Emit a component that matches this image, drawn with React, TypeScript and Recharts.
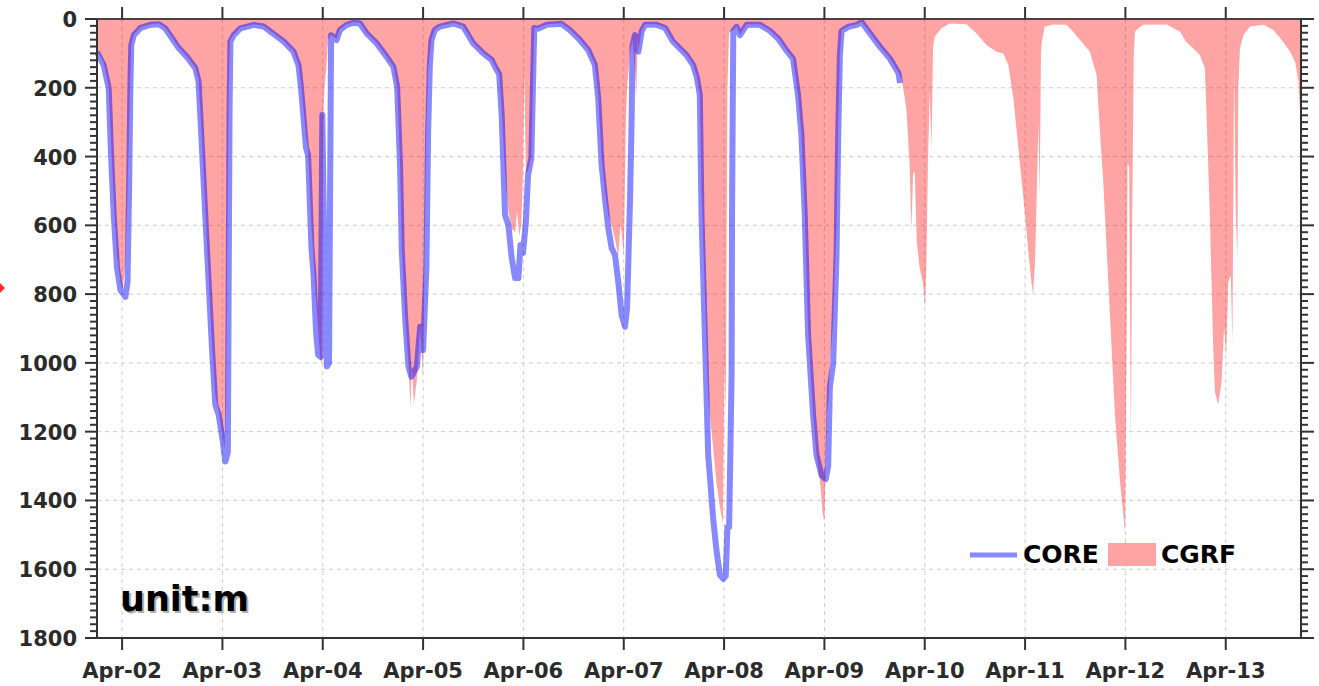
import { Area, CartesianGrid, ComposedChart, Line, XAxis, YAxis } from 'recharts';

// hours since Apr-01 18:00, depth in m
const coreHours = [
  0, 1.6, 2.8, 3.3, 4.0, 4.8, 5.6, 6.8, 7.3, 7.7, 8.0, 8.2, 8.8, 10.4, 12.7, 14.8, 16.3, 17.9, 19.5, 21.5, 23.5,
  24.3, 25.1, 25.9, 26.7, 27.5, 28.3, 29.1, 30.1, 30.7, 31.3, 31.5, 31.7, 31.9, 32.7, 34.3, 37.5, 39.9, 41.5, 44.7, 47.0,
  48.2, 48.8, 50.0, 50.5, 51.3, 51.8, 52.4, 52.9, 53.5, 53.9, 54.4, 55.0, 55.5, 56.0, 57.3, 58.1, 59.7, 61.3, 62.9, 64.5, 66.9, 69.3, 70.9,
  71.8, 72.5, 72.9, 73.7, 74.5, 75.2, 76.5, 77.3, 78.0, 78.8, 79.2, 79.6, 80.0, 80.8, 82.0, 85.2, 87.6, 90.0, 92.4, 94.4,
  95.2, 96.2, 96.8, 97.6, 98.4, 99.2, 100.0, 100.8, 101.3, 101.9, 102.6, 103.1, 103.9, 104.3, 104.6, 105.5, 107.6, 111.1, 113.1, 115.5, 117.5,
  119.1, 119.9, 120.7, 121.5, 122.3, 123.1, 123.9, 124.7, 125.5, 126.3, 126.8, 127.5, 127.9, 128.1, 128.7, 129.5, 130.3, 131.1, 133.9, 135.9, 137.8, 141.0,
  142.6, 143.5, 144.2, 144.6, 145.4, 146.2, 147.4, 148.2, 149.0, 149.8, 150.4, 150.8, 151.2, 151.4, 151.8, 151.9, 152.2, 153.0, 153.8, 155.4, 158.6, 161.0, 163.0, 165.0, 166.5,
  167.7, 168.5, 169.3, 170.1, 171.3, 172.1, 173.3, 174.3, 174.9, 175.3, 176.1, 176.9, 177.3, 177.7, 178.1, 179.7, 181.7, 182.9, 184.1, 187.3, 189.7, 191.7, 192.1,
];
const coreDepth = [
  96, 134, 200, 375, 570, 724, 788, 808, 765, 474, 183, 76, 47, 26, 17, 15, 27, 55, 84, 110, 142,
  182, 375, 570, 764, 957, 1122, 1151, 1229, 1287, 1260, 764, 279, 66, 47, 27, 17, 22, 37, 66, 95,
  134, 200, 375, 395, 666, 744, 910, 977, 983, 279, 700, 1010, 1000, 47, 61, 32, 17, 11, 13, 42, 71, 110, 139,
  197, 430, 672, 866, 1011, 1040, 1011, 895, 963, 720, 332, 139, 61, 32, 22, 13, 22, 71, 100, 119,
  139, 160, 279, 570, 599, 695, 753, 753, 657, 680, 590, 454, 404, 183, 26, 28, 17, 14, 32, 61, 90,
  134, 230, 424, 521, 608, 666, 686, 765, 861, 895, 840, 526, 284, 76, 47, 95, 35, 17, 17, 26, 66, 105,
  134, 170, 221, 570, 919, 1268, 1454, 1547, 1617, 1628, 1620, 1477, 1477, 1338, 1035, 570, 35, 23, 47, 17, 17, 35, 58, 93, 116,
  221, 337, 570, 919, 1152, 1268, 1326, 1338, 1300, 1070, 1000, 686, 337, 105, 35, 23, 17, 9, 29, 81, 116, 157, 186,
];

const cgrfHours = [
  0, 1.6, 2.8, 3.3, 4.0, 4.8, 5.6, 6.2, 6.7, 7.2, 7.6, 8.0, 8.2, 8.8, 10.4, 12.7, 14.8, 16.3, 17.9, 19.5, 21.5, 23.5,
  24.3, 25.1, 25.9, 26.7, 27.5, 28.3, 29.1, 30.0, 30.5, 30.9, 31.2, 31.5, 31.8, 32.7, 34.3, 37.5, 39.9, 41.5, 44.7, 47.0,
  48.2, 48.8, 50.0, 50.5, 51.3, 51.8, 52.4, 52.9, 53.4, 53.8, 54.1, 54.4, 54.8, 55.3, 56.0, 57.3, 58.1, 59.7, 61.3, 62.9, 64.5, 66.9, 69.3, 70.9,
  71.8, 72.5, 72.9, 73.7, 74.5, 75.0, 75.3, 75.8, 76.5, 77.3, 78.0, 78.4, 78.8, 79.2, 79.6, 80.0, 80.8, 82.0, 85.2, 87.6, 90.0, 92.4, 94.4,
  95.2, 96.2, 96.8, 97.6, 98.4, 99.2, 100.0, 100.5, 101.0, 101.5, 101.9, 102.2, 102.6, 103.1, 103.9, 104.3, 104.6, 105.5, 107.6, 111.1, 113.1, 115.5, 117.5,
  119.1, 119.9, 120.7, 121.5, 122.3, 123.1, 123.9, 124.7, 125.2, 125.5, 126.0, 126.5, 126.8, 127.5, 127.9, 128.1, 128.7, 129.0, 129.3, 129.5, 130.3, 131.1, 133.9, 135.9, 137.8, 141.0,
  142.6, 143.5, 144.2, 144.6, 145.4, 146.2, 147.4, 148.2, 149.0, 149.7, 150.1, 150.4, 150.8, 151.2, 152.2, 153.0, 153.8, 155.4, 158.6, 161.0, 163.0, 165.0, 166.5,
  167.7, 168.5, 169.3, 170.1, 171.3, 172.1, 173.0, 173.6, 174.0, 174.3, 174.6, 175.0, 175.3, 176.1, 176.9, 177.3, 177.7, 178.1, 179.7, 181.7, 182.9, 184.1, 187.3, 189.7,
  191.7, 192.5, 193.6, 194.4, 194.8, 195.2, 195.6, 196.1, 196.8, 197.6, 198.1, 198.4, 198.8, 199.2, 199.6, 200.0, 200.4, 202.0, 204.0, 208.0, 210.4, 212.8,
  215.2, 216.8, 218.0, 219.2, 220.0, 221.2, 222.0, 222.7, 223.5, 223.9, 224.4, 224.8, 225.2, 225.5, 225.8, 226.0, 226.7, 228.7, 231.9, 233.5, 235.5, 237.5,
  239.1, 239.9, 240.7, 241.5, 242.3, 243.5, 244.7, 245.9, 246.3, 246.5, 246.9, 247.3, 247.6, 248.0, 248.3, 249.1, 250.3, 255.9, 259.1, 260.5, 262.2,
  263.8, 265.0, 265.4, 266.2, 266.6, 267.0, 267.4, 268.2, 269.0, 269.6, 270.1, 270.6, 271.2, 271.6, 272.0, 272.4, 272.8, 273.0, 273.4, 274.2, 275.8,
  279.0, 281.4, 283.4, 285.4, 286.6, 287.4, 288,
];
const cgrfDepth = [
  90, 128, 195, 340, 530, 690, 765, 785, 720, 560, 350, 140, 72, 45, 24, 15, 13, 25, 52, 82, 108, 140,
  175, 350, 550, 745, 940, 1095, 1140, 1210, 1250, 1120, 620, 200, 62, 45, 25, 15, 20, 35, 64, 93,
  130, 190, 340, 380, 600, 700, 820, 900, 990, 1000, 300, 200, 150, 60, 45, 58, 30, 15, 9, 11, 40, 69, 108, 137,
  195, 420, 660, 860, 1000, 1131, 1000, 1120, 1050, 900, 1044, 650, 320, 150, 100, 58, 30, 20, 11, 20, 69, 98, 117,
  137, 160, 260, 450, 560, 610, 620, 560, 630, 600, 450, 160, 450, 440, 400, 180, 25, 26, 15, 12, 30, 59, 88,
  132, 220, 400, 500, 570, 600, 640, 690, 600, 620, 690, 300, 200, 100, 70, 60, 150, 230, 60, 93, 33, 15, 15, 24, 64, 103,
  132, 168, 219, 500, 800, 1100, 1250, 1350, 1420, 1466, 1000, 1150, 200, 40, 33, 21, 45, 15, 15, 33, 56, 91, 114,
  219, 335, 560, 900, 1150, 1268, 1350, 1440, 1460, 1300, 1150, 1100, 1000, 880, 600, 300, 100, 33, 21, 15, 7, 27, 79, 114,
  155, 175, 260, 430, 618, 450, 444, 650, 724, 769, 840, 700, 400, 211, 380, 80, 51, 27, 13, 15, 42, 76,
  95, 100, 134, 231, 328, 473, 570, 666, 764, 803, 700, 500, 300, 520, 100, 66, 22, 16, 17, 37, 66, 95,
  163, 328, 473, 666, 861, 1152, 1345, 1491, 900, 420, 430, 1250, 600, 100, 37, 27, 17, 16, 37, 66, 85,
  105, 143, 279, 570, 764, 957, 1084, 1122, 1055, 898, 977, 764, 745, 938, 134, 570, 700, 200, 85, 47, 22,
  17, 32, 61, 95, 124, 182, 330,
];

const dateTicks = [6, 30, 54, 78, 102, 126, 150, 174, 198, 222, 246, 270];
const depthTicks = Array.from({ length: 91 }, (_, i) => i * 20);
const gridDepths = [200, 400, 600, 800, 1000, 1200, 1400, 1600];

const coreData = coreHours.map((h, i) => ({ h, v: coreDepth[i] }));
const cgrfData = cgrfHours.map((h, i) => ({ h, v: cgrfDepth[i] }));

const FONT = '"DejaVu Sans", sans-serif';
// plot frame (chart margins/axis sizes below put it here)
const PLOT_LEFT = 97;
const PLOT_RIGHT = 1301;
const PLOT_TOP = 19;
const HOURS = 288;

const fmtDate = (h: number) => {
  const day = 1 + Math.round((h + 18) / 24);
  return `Apr-${String(day).padStart(2, '0')}`;
};

const LeftTick = (props: any) => {
  const { x, y, payload } = props;
  const major = payload.value % 200 === 0;
  return (
    <g>
      <line x1={x} x2={x - (major ? 12 : 7)} y1={y} y2={y} stroke="#333" strokeWidth={2} />
      {major && (
        <text x={x - 20} y={y} dy={8} textAnchor="end" fill="#2b2b2b" fontFamily={FONT} fontWeight="bold" fontSize={21}>
          {payload.value}
        </text>
      )}
    </g>
  );
};

const RightTick = (props: any) => {
  const { x, y, payload } = props;
  const major = payload.value % 200 === 0;
  return <line x1={x} x2={x + (major ? 13 : 7)} y1={y} y2={y} stroke="#333" strokeWidth={2} />;
};

const DateTick = (props: any) => {
  const { x, y, payload } = props;
  return (
    <text x={x} y={y} dy={20} textAnchor="middle" fill="#2b2b2b" fontFamily={FONT} fontWeight="bold" fontSize={21}>
      {fmtDate(payload.value)}
    </text>
  );
};

export default function App() {
  return (
    <div style={{ position: 'relative', width: 1319, height: 686, background: '#fff' }}>
      <style>{'body{margin:0}'}</style>
      <ComposedChart width={1319} height={686} margin={{ top: 0, right: 0, bottom: 0, left: 0 }}>
        <CartesianGrid
          stroke="#cccccc"
          strokeDasharray="4 4"
          horizontalValues={gridDepths}
          verticalValues={dateTicks}
        />
        <XAxis
          dataKey="h"
          type="number"
          domain={[0, HOURS]}
          ticks={dateTicks}
          interval={0}
          height={48}
          tickSize={12}
          tickMargin={8}
          stroke="#333"
          strokeWidth={2}
          tick={<DateTick />}
        />
        <XAxis
          xAxisId="top"
          dataKey="h"
          orientation="top"
          type="number"
          domain={[0, HOURS]}
          ticks={dateTicks}
          interval={0}
          height={PLOT_TOP}
          tickLine={false}
          tick={false}
          stroke="#444"
          strokeWidth={2}
        />
        <YAxis
          type="number"
          reversed
          domain={[0, 1800]}
          ticks={depthTicks}
          interval={0}
          width={PLOT_LEFT}
          tickSize={0}
          tickMargin={0}
          tickLine={false}
          stroke="#333"
          strokeWidth={2}
          tick={<LeftTick />}
        />
        <YAxis
          yAxisId="r"
          orientation="right"
          type="number"
          reversed
          domain={[0, 1800]}
          ticks={depthTicks}
          interval={0}
          width={1319 - PLOT_RIGHT}
          tickSize={0}
          tickMargin={0}
          tickLine={false}
          stroke="#333"
          strokeWidth={2}
          tick={<RightTick />}
        />
        <Line
          data={coreData}
          dataKey="v"
          type="linear"
          stroke="#0000ff"
          strokeOpacity={0.467}
          strokeWidth={6}
          strokeLinejoin="round"
          dot={false}
          isAnimationActive={false}
        />
        <Area
          xAxisId="top"
          yAxisId="r"
          data={cgrfData}
          dataKey="v"
          type="linear"
          fill="#ff0000"
          fillOpacity={0.357}
          stroke="none"
          isAnimationActive={false}
        />
      </ComposedChart>
      <svg width={1319} height={686} style={{ position: 'absolute', left: 0, top: 0, pointerEvents: 'none' }}>
        {/* tick marks on the top frame, same positions as the date axis */}
        {dateTicks.map((t) => {
          const x = PLOT_LEFT + (t / HOURS) * (PLOT_RIGHT - PLOT_LEFT);
          return <line key={t} x1={x} x2={x} y1={PLOT_TOP} y2={PLOT_TOP - 12} stroke="#333" strokeWidth={2} />;
        })}
        <polygon points="-4,279 5,288 -4,297 -13,288" fill="#ff2a2a" />
        <text x={122} y={613} fill="#b0b0b0" fontFamily={FONT} fontWeight="bold" fontSize={35}>unit:m</text>
        <text x={120} y={611} fill="#000" fontFamily={FONT} fontWeight="bold" fontSize={35}>unit:m</text>
        <line x1={970} x2={1017} y1={555} y2={555} stroke="#8888ff" strokeWidth={5} />
        <text x={1023} y={563} fill="#000" fontFamily={FONT} fontWeight="bold" fontSize={25}>CORE</text>
        <rect x={1108} y={543} width={48} height={23} fill="#ffa4a4" />
        <text x={1161} y={563} fill="#000" fontFamily={FONT} fontWeight="bold" fontSize={25}>CGRF</text>
      </svg>
    </div>
  );
}
